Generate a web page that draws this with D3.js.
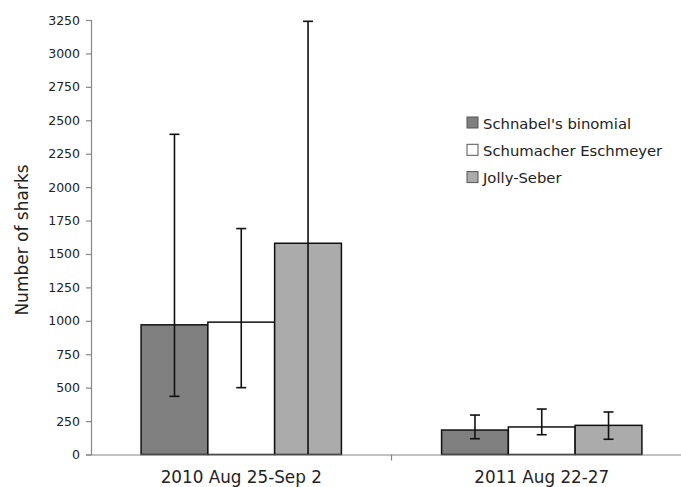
<!DOCTYPE html>
<html>
<head>
<meta charset="utf-8">
<script src="https://cdn.jsdelivr.net/npm/d3@7/dist/d3.min.js"></script>
<style>
  html, body { margin: 0; padding: 0; background: #fff; }
  svg { display: block; font-family: "DejaVu Sans", Verdana, sans-serif; }
</style>
</head>
<body>
<svg id="chart" width="681" height="487"></svg>
<script>
// Survey periods and abundance estimators
const periods = ["2010 Aug 25-Sep 2", "2011 Aug 22-27"];
const methods = ["Schnabel's binomial", "Schumacher Eschmeyer", "Jolly-Seber"];

// Estimated number of sharks, one array per period (in method order)
const estimates2010 = [970, 990, 1580];
const estimates2011 = [183, 206, 218];

// 95% confidence limits
const lower2010 = [435, 500, 0];
const upper2010 = [2395, 1690, 3240];
const lower2011 = [118, 148, 114];
const upper2011 = [295, 340, 318];

const yTicks = [0, 250, 500, 750, 1000, 1250, 1500, 1750, 2000, 2250, 2500, 2750, 3000, 3250];
const fills = ["#808080", "#ffffff", "#ababab"];

const rows = [
  { period: periods[0], est: estimates2010, lo: lower2010, hi: upper2010 },
  { period: periods[1], est: estimates2011, lo: lower2011, hi: upper2011 }
];

const svg = d3.select("#chart");
const plotLeft = 91, plotRight = 692, plotTop = 20, plotBottom = 454.5;

const x0 = d3.scaleBand().domain(periods).range([plotLeft, plotRight]).padding(0);
const x1 = d3.scaleBand().domain(methods)
  .range([x0.bandwidth() / 6, x0.bandwidth() * 5 / 6]).padding(0);
const y = d3.scaleLinear().domain([0, 3250]).range([plotBottom, plotTop]);
const color = d3.scaleOrdinal().domain(methods).range(fills);

const textColor = "#222";
const axisColor = "#868686";

// Y axis
const yAxis = svg.append("g")
  .attr("transform", `translate(${plotLeft},0)`)
  .call(d3.axisLeft(y).tickValues(yTicks).tickSize(5).tickPadding(6).tickFormat(d3.format("d")));
yAxis.select(".domain").attr("stroke", axisColor).attr("stroke-width", 1.2);
yAxis.selectAll(".tick line").attr("stroke", axisColor).attr("stroke-width", 1.2);
yAxis.selectAll(".tick text").attr("fill", textColor).attr("font-size", 12.5)
  .attr("font-family", "DejaVu Sans, Verdana, sans-serif");

// Bars
const groups = svg.append("g").selectAll("g")
  .data(rows).join("g")
  .attr("transform", d => `translate(${x0(d.period)},0)`);

groups.selectAll("rect")
  .data(d => methods.map((m, i) => ({ m, v: d.est[i] })))
  .join("rect")
  .attr("x", d => x1(d.m))
  .attr("width", x1.bandwidth())
  .attr("y", d => y(d.v))
  .attr("height", d => y(0) - y(d.v))
  .attr("fill", d => color(d.m))
  .attr("stroke", "#111")
  .attr("stroke-width", 1.5);

// Error bars
const err = groups.selectAll("g.err")
  .data(d => methods.map((m, i) => ({ m, lo: d.lo[i], hi: d.hi[i] })))
  .join("g").attr("class", "err")
  .attr("transform", d => `translate(${x1(d.m) + x1.bandwidth() / 2},0)`);
err.append("line")
  .attr("x1", 0).attr("x2", 0)
  .attr("y1", d => y(d.hi)).attr("y2", d => y(d.lo))
  .attr("stroke", "#111").attr("stroke-width", 1.6);
err.append("line")
  .attr("x1", -5).attr("x2", 5)
  .attr("y1", d => y(d.hi)).attr("y2", d => y(d.hi))
  .attr("stroke", "#111").attr("stroke-width", 1.6);
err.filter(d => d.lo > 0).append("line")
  .attr("x1", -5).attr("x2", 5)
  .attr("y1", d => y(d.lo)).attr("y2", d => y(d.lo))
  .attr("stroke", "#111").attr("stroke-width", 1.6);

// X axis
const xAxis = svg.append("g")
  .attr("transform", `translate(0,${plotBottom})`)
  .call(d3.axisBottom(x0).tickSize(0).tickPadding(17));
xAxis.select(".domain").attr("stroke", axisColor).attr("stroke-width", 1.2);
xAxis.selectAll(".tick text").attr("fill", textColor).attr("font-size", 16.8)
  .attr("font-family", "DejaVu Sans, Verdana, sans-serif");
// separator tick between periods
xAxis.append("line")
  .attr("x1", x0(periods[1])).attr("x2", x0(periods[1]))
  .attr("y1", 0).attr("y2", 6)
  .attr("stroke", axisColor).attr("stroke-width", 1.2);

// Y axis title
svg.append("text")
  .attr("transform", `translate(28,240) rotate(-90)`)
  .attr("text-anchor", "middle")
  .attr("font-size", 17)
  .attr("fill", textColor)
  .text("Number of sharks");

// Legend
const legend = svg.append("g").attr("transform", "translate(467,117)");
const item = legend.selectAll("g").data(methods).join("g")
  .attr("transform", (d, i) => `translate(0,${i * 27.3})`);
item.append("rect")
  .attr("width", 11).attr("height", 11)
  .attr("fill", d => color(d))
  .attr("stroke", "#555").attr("stroke-width", 1);
item.append("text")
  .attr("x", 16).attr("y", 11.5)
  .attr("font-size", 14.8)
  .attr("fill", textColor)
  .text(d => d);
</script>
</body>
</html>
